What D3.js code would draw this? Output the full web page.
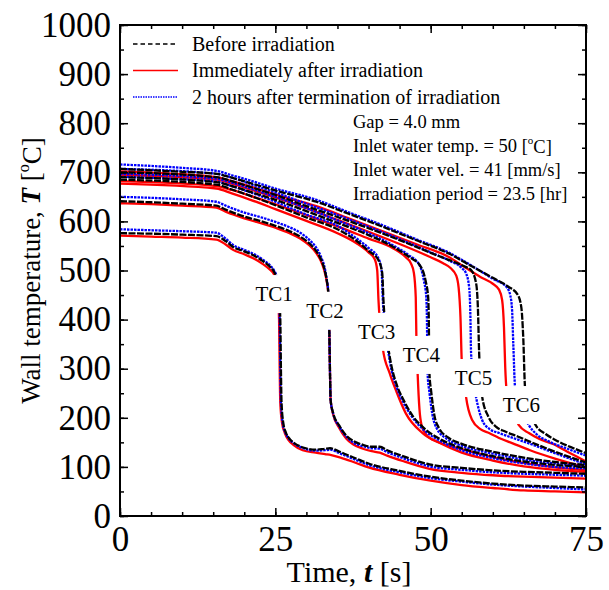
<!DOCTYPE html>
<html><head><meta charset="utf-8"><title>Wall temperature vs time</title>
<style>
  body { margin: 0; background: #fff; }
  svg { display: block; font-family: 'Liberation Serif', 'Times New Roman', serif; }
</style>
</head>
<body>
<svg id="chart" width="609" height="590"></svg>
<script src="https://cdnjs.cloudflare.com/ajax/libs/d3/7.8.5/d3.min.js"></script>
<script>
// axis ticks
const xMajorTicks = [0, 25, 50, 75];
const xMinorTicks = d3.range(0, 76, 5);
const yMajorTicks = d3.range(0, 1001, 100);
const yMinorTicks = d3.range(0, 1001, 50);

// conditions: before irradiation / immediately after / 2 hours after
const conditions = ["Before irradiation", "Immediately after irradiation", "2 hours after termination of irradiation"];
const notes = ["Gap = 4.0 mm", "Inlet water temp. = 50 [\u00b0C]", "Inlet water vel. = 41 [mm/s]", "Irradiation period = 23.5 [hr]"];

// [time s, wall temperature degC]
const tc1Before = [[0,576],[5,575],[10,573],[15.5,570],[17,560],[18.2,548],[20,539],[21.9,528],[23,519],[24.1,508],[24.8,497],[25.2,485],[25.6,450],[25.8,400],[25.9,300],[26,230],[26.3,188],[26.7,170],[27.3,157],[28.1,148],[29.6,139],[31.5,135],[33,137],[33.8,138],[35.5,130],[38,117],[40,107],[45,92],[50,80],[55,72],[60,66],[65,62],[70,60],[75,58]];
const tc1Immediate = [[0,571],[5,569],[10,567],[15.5,563],[17,553],[18.2,542],[20,533],[21.9,522],[23,513],[24.1,502],[24.8,492],[25.1,480],[25.4,450],[25.6,400],[25.7,300],[25.8,230],[26.1,188],[26.5,170],[27.1,155],[27.9,145],[29.4,134],[31.5,129],[33,126],[34,124],[35.5,119],[38,108],[40,99],[45,84],[50,72],[55,63],[60,57],[65,52],[70,50],[75,48]];
const tc1After2h = [[0,584],[5,582],[10,580],[15.5,577],[17,565],[18.2,552],[20,542],[21.9,531],[23,522],[24.1,511],[24.8,500],[25.2,488],[25.5,450],[25.7,400],[25.8,300],[25.9,230],[26.2,188],[26.6,170],[27.2,157],[28,148],[29.5,138],[31.5,133],[33,134],[33.8,135],[35.5,127],[38,114],[40,104],[45,89],[50,77],[55,70],[60,64],[65,60],[70,57],[75,54]];

const tc2Before = [[0,641],[5,639],[10,636],[15.5,632],[17,624],[18.2,618],[20,610],[22.5,601],[25,591],[27.3,580],[29,569],[30.5,555],[31.5,541],[32.1,529],[32.6,515],[32.9,503],[33.3,478],[33.5,458],[33.6,420],[33.7,370],[33.8,290],[33.9,236],[34.3,210],[35.3,184],[36.4,164],[37.5,153],[39.1,145],[40.5,141],[41.8,141],[43,134],[45.5,122],[49.8,105],[55,98],[60,93],[65,90],[70,88],[75,86]];
const tc2Immediate = [[0,637],[5,635],[10,632],[15.5,628],[17,620],[18.2,614],[20,606],[22.5,597],[25,587],[27.3,576],[29,565],[30.5,551],[31.5,537],[32.1,525],[32.6,511],[32.9,499],[33.3,476],[33.5,456],[33.6,420],[33.7,370],[33.8,290],[33.9,236],[34.3,207],[35.3,179],[36.4,158],[37.5,146],[39.1,137],[40.5,132],[41.8,129],[43,123],[45.5,112],[49.8,96],[55,88],[60,83],[65,80],[70,78],[75,76]];
const tc2After2h = [[0,650],[5,648],[10,645],[15.5,640],[17,632],[18.2,626],[20,618],[22.5,609],[25,599],[27.3,588],[29,577],[30.5,562],[31.5,548],[32.1,535],[32.6,520],[32.9,508],[33.3,480],[33.5,460],[33.6,420],[33.7,370],[33.8,290],[33.9,236],[34.3,209],[35.3,182],[36.4,162],[37.5,150],[39.1,142],[40.5,138],[41.8,137],[43,130],[45.5,118],[49.8,101],[55,94],[60,89],[65,86],[70,84],[75,82]];

const tc3Before = [[0,685],[15.5,675],[18,665],[21,652],[25,633],[30,608],[35,584],[38,561],[40,540],[41.6,521],[42.2,495],[42.4,440],[42.6,400],[43.2,341],[43.7,305],[44.6,265],[45.6,237],[47.1,204],[49.1,177],[51.5,157],[55,138],[60,122],[65,111],[70,104],[75,100]];
const tc3Immediate = [[0,677],[15.5,667],[18,657],[21,644],[25,625],[30,601],[35,576],[38,556],[40,537],[41,523],[41.4,500],[41.6,440],[41.8,400],[42.3,341],[43.4,291],[44.5,253],[46,209],[48.7,169],[51.4,149],[55,129],[60,113],[65,101],[70,94],[75,90]];
const tc3After2h = [[0,691],[8,687],[15.5,681],[18,672],[21,659],[25,640],[30,614],[35,591],[38,566],[40,546],[41.5,527],[42.1,500],[42.3,440],[42.5,400],[43.1,341],[43.6,303],[44.5,263],[45.5,234],[47,202],[49,174],[51.4,154],[55,134],[60,118],[65,107],[70,100],[75,97]];

const tc4Before = [[0,690],[15.5,680],[18,672],[21,660],[25,644],[30,621],[35,597],[40,572],[44,548],[46.5,528],[48.4,508],[49.2,478],[49.6,445],[49.7,400],[49.8,291],[50.1,252],[50.6,205],[51.3,180],[52.8,160],[55,147],[60,131],[65,119],[70,110],[75,104]];
const tc4Immediate = [[0,682],[15.5,672],[18,664],[21,652],[25,635],[30,613],[35,590],[40,565],[44,545],[46,527],[46.8,515],[47.3,495],[47.6,445],[47.7,364],[47.9,291],[48.2,217],[48.5,187],[49.2,167],[50.5,154],[52,147],[55,136],[60,120],[65,108],[70,99],[75,93]];
const tc4After2h = [[0,697],[15.5,687],[18,679],[21,667],[25,650],[30,627],[35,602],[40,576],[44,551],[46.5,531],[48.2,511],[48.9,480],[49.3,445],[49.4,400],[49.5,291],[49.8,252],[50.3,205],[51,178],[52.5,158],[55,143],[60,127],[65,115],[70,107],[75,101]];

const tc5Before = [[0,700],[15.5,690],[18,682],[21,670],[25,654],[30,631],[35,609],[40,586],[45,562],[50,536],[53,521],[55.5,508],[56.5,501],[57.3,475],[57.6,424],[57.8,333],[58.1,263],[58.3,242],[59.3,202],[60.5,182],[62,172],[64,162],[67,146],[70,131],[75,109]];
const tc5Immediate = [[0,695],[15.5,685],[18,677],[21,665],[25,649],[30,627],[35,603],[40,579],[45,554],[50,527],[52,515],[53.2,505],[54.1,490],[54.5,465],[54.8,404],[55,317],[55.5,263],[55.7,242],[56.7,195],[58,177],[59.4,169],[61,159],[63.2,148],[66,134],[70,117],[75,99]];
const tc5After2h = [[0,707],[15.5,697],[18,689],[21,676],[25,659],[30,636],[35,613],[40,589],[45,564],[50,537],[53,520],[55,505],[55.7,494],[56.2,465],[56.4,404],[56.5,333],[57,263],[57.3,242],[58.3,195],[59.5,177],[61,169],[63,160],[66,147],[70,128],[75,105]];

const tc6Before = [[0,707],[10,701],[15.5,697],[18,689],[21,678],[25,663],[31.6,640],[36.9,615],[42.3,589],[47.6,562],[53,534],[56.7,508],[60,485],[62.5,467],[64,451],[64.6,424],[64.9,364],[65.2,260],[66.9,185],[68.5,167],[70.5,152],[73,138],[75,128]];
const tc6Immediate = [[0,702],[10,696],[15.5,690],[18,682],[21,671],[25,655],[31.6,631],[36.9,606],[42.3,580],[47.6,554],[53,527],[55.7,505],[58,487],[60,473],[61,461],[61.5,440],[61.8,384],[62,303],[62.2,260],[64.2,185],[65.8,169],[67.5,157],[69.6,147],[72,131],[75,111]];
const tc6After2h = [[0,716],[10,709],[15.5,703],[18,694],[21,683],[25,667],[31.6,644],[36.9,618],[42.3,592],[47.6,564],[53,536],[56.7,509],[60,483],[62.3,465],[62.8,450],[63.1,420],[63.3,350],[63.6,260],[65.8,185],[67,167],[69,152],[72,137],[75,123]];

// label anchors (data coordinates)
const tcNames = ["TC1", "TC2", "TC3", "TC4", "TC5", "TC6"];
const tcLabelT = [24.8, 33.0, 41.3, 48.5, 56.9, 64.6];
const tcLabelTemp = [452, 418, 375, 328, 281, 226];

const beforeSeries = [tc1Before, tc2Before, tc3Before, tc4Before, tc5Before, tc6Before];
const immediateSeries = [tc1Immediate, tc2Immediate, tc3Immediate, tc4Immediate, tc5Immediate, tc6Immediate];
const after2hSeries = [tc1After2h, tc2After2h, tc3After2h, tc4After2h, tc5After2h, tc6After2h];

const W = 609, H = 590;
const m = { left: 120, right: 23, top: 25, bottom: 74 };
const svg = d3.select("#chart");

const x = d3.scaleLinear().domain([0, 75]).range([m.left, W - m.right]);
const y = d3.scaleLinear().domain([0, 1000]).range([H - m.bottom, m.top]);

const styles = [
  { data: immediateSeries, color: "#ff0000", dash: null },
  { data: after2hSeries, color: "#0000ff", dash: "2.5,1" },
  { data: beforeSeries, color: "#000000", dash: "7,1.5" }
];

const line = d3.line().x(d => x(d[0])).y(d => y(d[1])).curve(d3.curveMonotoneX);

const plot = svg.append("g");
styles.forEach(s => {
  plot.selectAll(null).data(s.data).enter().append("path")
    .attr("d", line)
    .attr("fill", "none")
    .attr("stroke", s.color)
    .attr("stroke-width", 2.3)
    .attr("stroke-dasharray", s.dash);
});

// TC labels with white backing
const lab = svg.append("g").attr("font-size", 21);
tcNames.forEach((name, i) => {
  const g = lab.append("g").attr("transform", `translate(${x(tcLabelT[i])},${y(tcLabelTemp[i])})`);
  const t = g.append("text").attr("text-anchor", "middle").attr("dy", "0.35em").text(name);
  const w = t.node().getComputedTextLength();
  g.insert("rect", "text").attr("x", -w / 2 - 2).attr("y", -19).attr("width", w + 4).attr("height", 38).attr("fill", "#fff");
});

// axes: ticks inward on all sides
const tickFont = 35;
function axisGroup(gen, tf) {
  return svg.append("g").attr("transform", tf).call(gen)
    .call(g => g.select(".domain").remove())
    .call(g => g.selectAll("line").attr("stroke", "#000").attr("stroke-width", 1.5))
    .call(g => g.selectAll("text").attr("font-size", tickFont).attr("font-family", "'Liberation Serif', serif").attr("fill", "#000"));
}
const bottomT = `translate(0,${H - m.bottom})`, topT = `translate(0,${m.top})`;
const leftT = `translate(${m.left},0)`, rightT = `translate(${W - m.right},0)`;

axisGroup(d3.axisBottom(x).tickValues(xMajorTicks).tickSize(-8).tickPadding(10).tickFormat(d3.format("d")), bottomT);
axisGroup(d3.axisBottom(x).tickValues(xMinorTicks).tickSize(-4).tickFormat(""), bottomT);
axisGroup(d3.axisTop(x).tickValues(xMajorTicks).tickSize(-8).tickFormat(""), topT);
axisGroup(d3.axisTop(x).tickValues(xMinorTicks).tickSize(-4).tickFormat(""), topT);
axisGroup(d3.axisLeft(y).tickValues(yMajorTicks).tickSize(-8).tickPadding(9).tickFormat(d3.format("d")), leftT);
axisGroup(d3.axisLeft(y).tickValues(yMinorTicks).tickSize(-4).tickFormat(""), leftT);
axisGroup(d3.axisRight(y).tickValues(yMajorTicks).tickSize(-8).tickFormat(""), rightT);
axisGroup(d3.axisRight(y).tickValues(yMinorTicks).tickSize(-4).tickFormat(""), rightT);

svg.append("rect")
  .attr("x", m.left).attr("y", m.top)
  .attr("width", W - m.left - m.right).attr("height", H - m.top - m.bottom)
  .attr("fill", "none").attr("stroke", "#000").attr("stroke-width", 2);

// legend
const legend = svg.append("g").attr("font-size", 20);
const legendStyles = [styles[2], styles[0], styles[1]];
conditions.forEach((c, i) => {
  const st = legendStyles[i];
  const ly = 44 + i * 26.5;
  legend.append("line").attr("x1", 133).attr("x2", 178).attr("y1", ly).attr("y2", ly)
    .attr("stroke", st.color).attr("stroke-width", 1.4)
    .attr("stroke-dasharray", i === 0 ? "4.5,3" : (i === 2 ? "1.5,1" : null));
  legend.append("text").attr("x", 192).attr("y", ly).attr("dy", "0.33em").text(c);
});

// condition notes
const noteG = svg.append("g").attr("font-size", 18.5);
notes.forEach((n, i) => {
  const t = noteG.append("text").attr("x", 353).attr("y", 122 + i * 23.8).attr("dy", "0.33em");
  if (n.includes("\u00b0C")) {
    const parts = n.split("\u00b0");
    t.append("tspan").text(parts[0]);
    t.append("tspan").attr("font-size", 11).attr("dy", "-0.7em").text("o");
    t.append("tspan").attr("dy", "0.45em").text(parts[1]);
  } else {
    t.text(n);
  }
});

// axis titles
const xt = svg.append("text").attr("x", 349).attr("y", 582).attr("text-anchor", "middle").attr("font-size", 30);
xt.append("tspan").text("Time,  ");
xt.append("tspan").attr("font-weight", "bold").attr("font-style", "italic").text("t");
xt.append("tspan").text(" [s]");

const yt = svg.append("text").attr("transform", `translate(40,${(m.top + H - m.bottom) / 2}) rotate(-90)`)
  .attr("text-anchor", "middle").attr("font-size", 27);
yt.append("tspan").text("Wall temperature,  ");
yt.append("tspan").attr("font-weight", "bold").attr("font-style", "italic").text("T");
yt.append("tspan").text(" [");
yt.append("tspan").attr("font-size", 16).attr("dy", "-0.7em").text("o");
yt.append("tspan").attr("dy", "0.45em").text("C]");
</script>
</body></html>
